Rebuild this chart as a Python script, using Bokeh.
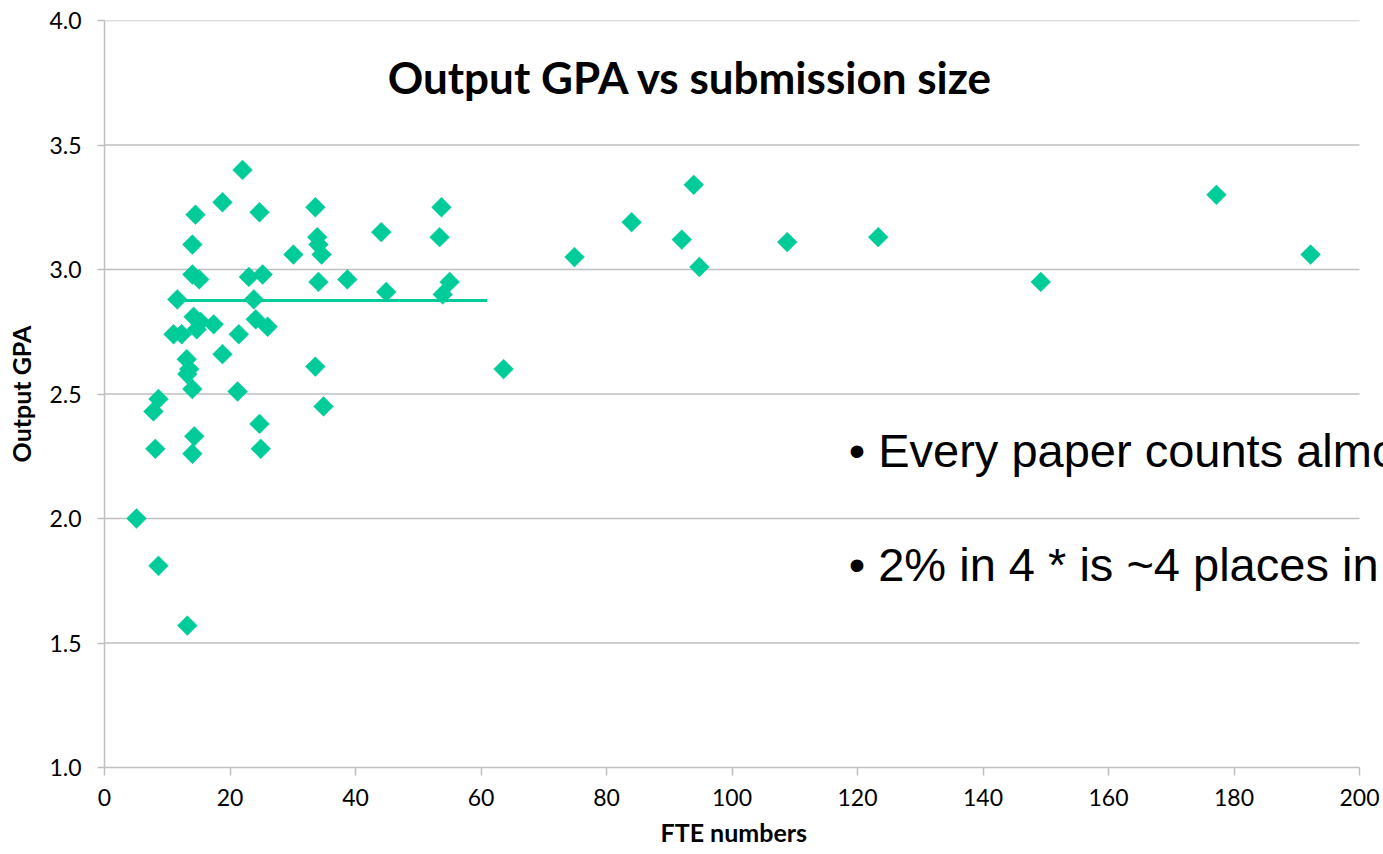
from bokeh.plotting import figure
from bokeh.models import FixedTicker, NumeralTickFormatter, Label, ColumnDataSource, Title
from bokeh.embed import file_html
from bokeh.resources import INLINE

# ---- data ----
fte = [5.1, 8.6, 13.2, 8.1, 7.8, 8.6, 11.0, 12.3, 11.6, 13.1, 13.5, 13.2, 14.0, 14.0,
       14.3, 14.2, 15.3, 14.7, 17.4, 14.0, 15.1, 14.0, 14.5, 18.8, 22.0, 24.7, 23.0,
       25.2, 23.8, 24.1, 26.0, 21.4, 18.8, 21.2, 24.7, 24.9, 30.1, 33.6, 33.9, 34.1,
       34.6, 34.1, 33.6, 34.9, 38.7, 44.1, 44.9, 53.7, 53.4, 55.0, 53.9, 63.6, 74.9,
       84.0, 92.0, 93.9, 94.8, 108.8, 123.3, 149.2, 177.2, 192.2]
gpa = [2.00, 1.81, 1.57, 2.28, 2.43, 2.48, 2.74, 2.74, 2.88, 2.64, 2.60, 2.58, 2.52, 2.26,
       2.33, 2.81, 2.79, 2.76, 2.78, 2.98, 2.96, 3.10, 3.22, 3.27, 3.40, 3.23, 2.97,
       2.98, 2.88, 2.80, 2.77, 2.74, 2.66, 2.51, 2.38, 2.28, 3.06, 3.25, 3.13, 3.10,
       3.06, 2.95, 2.61, 2.45, 2.96, 3.15, 2.91, 3.25, 3.13, 2.95, 2.90, 2.60, 3.05,
       3.19, 3.12, 3.34, 3.01, 3.11, 3.13, 2.95, 3.30, 3.06]
trend_x = [12.1, 61.0]
trend_y = [2.876, 2.876]
x_ticks = [0, 20, 40, 60, 80, 100, 120, 140, 160, 180, 200]
y_ticks = [1.0, 1.5, 2.0, 2.5, 3.0, 3.5, 4.0]
title_text = "Output GPA vs submission size"
x_label = "FTE numbers"
y_label = "Output GPA"
bullet_lines = ["Every paper counts almost", "2% in 4 * is ~4 places in"]

GREEN = "#00CC99"
GRID = "#BFBFBF"
FONT = "Lato"
X_MAX = 200

# the frame runs to the right edge of the page so the slide text is not clipped early;
# axis and grid lines stop at x = 200 as in the reference
p = figure(width=1383, height=854, x_range=(0, 203.82), y_range=(1.0, 4.0),
           output_backend="svg", toolbar_location=None,
           min_border_left=104, min_border_right=0, min_border_top=20, min_border_bottom=87)
p.outline_line_color = None
p.background_fill_color = "white"
p.border_fill_color = "white"

p.xgrid.grid_line_color = None
p.ygrid.grid_line_color = None
p.xaxis.ticker = FixedTicker(ticks=x_ticks)
p.yaxis.ticker = FixedTicker(ticks=y_ticks)
p.yaxis.formatter = NumeralTickFormatter(format="0.0")
p.xaxis.bounds = (0, X_MAX)

for ax in (p.xaxis, p.yaxis):
    ax.axis_line_color = GRID
    ax.axis_line_width = 1.5
    ax.major_tick_line_color = GRID
    ax.major_tick_line_width = 1.5
    ax.minor_tick_line_color = None
    ax.major_tick_in = 0
    ax.major_label_text_font = FONT
    ax.major_label_text_font_size = "23px"
    ax.major_label_text_color = "black"
    ax.axis_label_text_font = FONT
    ax.axis_label_text_font_style = "bold"
    ax.axis_label_text_color = "black"
    ax.axis_label_text_font_size = "25px"

p.yaxis.major_tick_out = 7
p.xaxis.major_tick_out = 8
p.yaxis.major_label_standoff = 16
p.xaxis.major_label_standoff = 13
p.yaxis.axis_label = y_label
p.yaxis.axis_label_standoff = 10

# x axis title placed under the middle of the 0..200 axis (not the wider frame)
p.add_layout(Title(text=x_label, align="left", offset=556, standoff=13,
                   text_font=FONT, text_font_style="bold", text_font_size="25px",
                   text_color="black"), "below")

# horizontal gridlines at the y ticks, limited to the x axis extent
grid_y = [t for t in y_ticks if t > y_ticks[0]]
p.segment(x0=[0] * len(grid_y), x1=[X_MAX] * len(grid_y), y0=grid_y, y1=grid_y,
          line_color=GRID, line_width=1.5)

src = ColumnDataSource(data=dict(x=fte, y=gpa))
p.line(trend_x, trend_y, line_color=GREEN, line_width=3)
p.scatter("x", "y", source=src, marker="square", size=14, angle=45, angle_units="deg",
          fill_color=GREEN, line_color=GREEN, line_width=0.5)

p.add_layout(Label(x=93.4, y=3.772, text=title_text, text_align="center",
                   text_baseline="alphabetic", text_font=FONT, text_font_style="bold",
                   text_font_size="44px", text_color="black"))

bullet_y = [2.272, 1.814]
for line, by in zip(bullet_lines, bullet_y):
    p.add_layout(Label(x=118.6, y=by, text="\u2022", text_align="left",
                       text_baseline="alphabetic", text_font="Liberation Sans",
                       text_font_size="47px", text_color="black"))
    p.add_layout(Label(x=123.3, y=by, text=line, text_align="left",
                       text_baseline="alphabetic", text_font="Liberation Sans",
                       text_font_size="47px", text_color="black"))

open("out.html", "w").write(file_html(p, INLINE))
